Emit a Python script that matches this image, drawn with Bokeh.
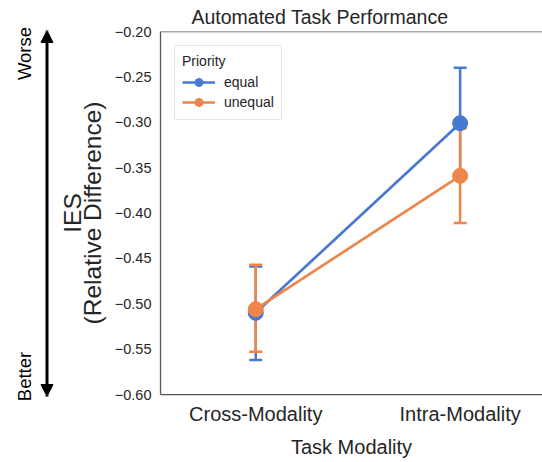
from bokeh.plotting import figure
from bokeh.layouts import row
from bokeh.models import (ColumnDataSource, Range1d, FixedTicker, CustomJSTickFormatter, LinearAxis,
                          Whisker, TeeHead, Legend, LegendItem, Span, Arrow, NormalHead)
from bokeh.embed import file_html
from bokeh.resources import INLINE

# ---- data ----
categories = ["Cross-Modality", "Intra-Modality"]
hue_levels = ["equal", "unequal"]
equal_mean = [-0.510, -0.301]
equal_lower = [-0.562, -0.362]
equal_upper = [-0.459, -0.240]
unequal_mean = [-0.506, -0.359]
unequal_lower = [-0.553, -0.411]
unequal_upper = [-0.457, -0.307]
y_ticks = [-0.60, -0.55, -0.50, -0.45, -0.40, -0.35, -0.30, -0.25, -0.20]
direction_labels = ["Worse", "Better"]

colors = {"equal": "#4878d0", "unequal": "#ee854a"}
FONT = "Liberation Sans"
TXT = "#262626"
SPINE = "#555555"

W, H = 542, 462
SIDE_W, SIDE_LEFT = 55, 35
LEFT, TOP, BOTTOM = 157, 31, 68
X0, X1 = -0.466, 1.403
Y0, Y1 = -0.60, -0.20

# ---- side panel: Worse/Better arrow (window-pixel coordinates, y up) ----
side = figure(width=SIDE_W, height=H, output_backend="svg", toolbar_location=None,
              x_range=Range1d(SIDE_LEFT, SIDE_W), y_range=Range1d(BOTTOM, H - TOP),
              x_axis_type=None, y_axis_type=None,
              min_border_left=SIDE_LEFT, min_border_right=0,
              min_border_top=TOP, min_border_bottom=BOTTOM)
side.outline_line_color = None
side.grid.visible = False
side.border_fill_color = "white"
side.background_fill_color = "white"

dir_ticks = [H - 53, H - 376]
side.add_layout(LinearAxis(ticker=FixedTicker(ticks=dir_ticks),
                           major_label_overrides={t: s for t, s in zip(dir_ticks, direction_labels)},
                           major_label_orientation="vertical",
                           axis_line_color=None, major_tick_line_color=None, minor_tick_line_color=None,
                           major_tick_out=0, major_tick_in=0, major_label_standoff=1,
                           major_label_text_font=FONT, major_label_text_font_size="18.5px",
                           major_label_text_color="black"), "left")
side.add_layout(Arrow(x_start=46.5, y_start=H - 396, x_end=46.5, y_end=H - 30,
                      line_color="black", line_width=3,
                      start=NormalHead(size=12, fill_color="black", line_color="black"),
                      end=NormalHead(size=12, fill_color="black", line_color="black")))

# ---- main plot ----
p = figure(width=W - SIDE_W, height=H, output_backend="svg", toolbar_location=None,
           x_range=Range1d(X0, X1), y_range=Range1d(Y0, Y1),
           min_border_left=LEFT - SIDE_W, min_border_right=0,
           min_border_top=TOP, min_border_bottom=BOTTOM)
p.outline_line_color = None
p.xgrid.visible = False
p.ygrid.visible = False
p.background_fill_color = "white"
p.border_fill_color = "white"

p.title.text = "Automated Task Performance"
p.title.text_font = FONT
p.title.text_font_size = "19.5px"
p.title.text_font_style = "normal"
p.title.text_color = TXT
p.title.align = "left"
p.title.offset = 31
p.title.standoff = 7

x_idx = list(range(len(categories)))
p.xaxis.ticker = FixedTicker(ticks=x_idx)
p.xaxis.major_label_overrides = {i: c for i, c in zip(x_idx, categories)}
p.xaxis.axis_label = "Task Modality"
p.yaxis.ticker = FixedTicker(ticks=y_ticks)
p.yaxis.formatter = CustomJSTickFormatter(code="return (tick < -1e-9 ? '\u2212' : '') + Math.abs(tick).toFixed(2);")
p.yaxis.axis_label = "IES\n(Relative Difference)"

for ax in (p.xaxis[0], p.yaxis[0]):
    ax.axis_line_color = SPINE
    ax.axis_line_width = 1.25
    ax.major_tick_line_color = None
    ax.minor_tick_line_color = None
    ax.major_tick_out = 0
    ax.major_tick_in = 0
    ax.major_label_text_font = FONT
    ax.major_label_text_color = TXT
    ax.axis_label_text_font = FONT
    ax.axis_label_text_color = TXT
    ax.axis_label_text_font_style = "normal"

p.xaxis.major_label_text_font_size = "20px"
p.xaxis.axis_label_text_font_size = "20px"
p.xaxis.major_label_standoff = 8
p.xaxis.axis_label_standoff = 8
p.yaxis.major_label_text_font_size = "14.5px"
p.yaxis.axis_label_text_font_size = "24.5px"
p.yaxis.axis_label_text_line_height = 0.75
p.yaxis.major_label_standoff = 9
p.yaxis.axis_label_standoff = 6

p.add_layout(Span(location=Y1, dimension="width", line_color=SPINE, line_width=1.25))

series = {
    "equal": (equal_mean, equal_lower, equal_upper),
    "unequal": (unequal_mean, unequal_lower, unequal_upper),
}
items = []
for lvl in hue_levels:
    mean, lo, hi = series[lvl]
    c = colors[lvl]
    src = ColumnDataSource(dict(x=x_idx, y=mean, lower=lo, upper=hi))
    ln = p.line("x", "y", source=src, line_color=c, line_width=2.7)
    p.add_layout(Whisker(source=src, base="x", lower="lower", upper="upper", dimension="height",
                         line_color=c, line_width=2.5,
                         upper_head=TeeHead(size=13, line_color=c, line_width=2.5),
                         lower_head=TeeHead(size=13, line_color=c, line_width=2.5)))
    sc = p.scatter("x", "y", source=src, size=15, fill_color=c, line_color=c)
    items.append(LegendItem(label=lvl, renderers=[ln, sc]))

legend = Legend(items=items, location="top_left", title="Priority")
legend.margin = 14
legend.padding = 7
legend.spacing = 0
legend.glyph_width = 33
legend.glyph_height = 20
legend.label_height = 20
legend.label_standoff = 9
legend.label_text_font = FONT
legend.label_text_font_size = "14px"
legend.label_text_color = TXT
legend.title_text_font = FONT
legend.title_text_font_size = "14px"
legend.title_text_font_style = "normal"
legend.title_text_color = TXT
legend.title_standoff = 3
legend.border_line_color = "#d0d0d0"
legend.border_line_width = 1
legend.background_fill_alpha = 0.8
p.add_layout(legend)

layout = row(side, p)
open("out.html", "w").write(file_html(layout, INLINE))
